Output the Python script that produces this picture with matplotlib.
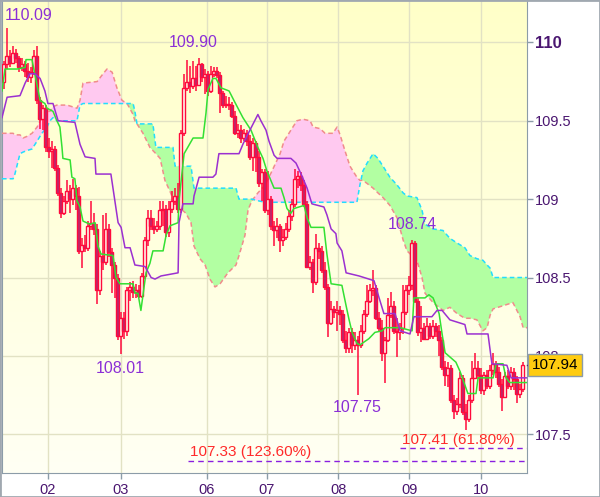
import numpy as np
import matplotlib
matplotlib.use('Agg')
import matplotlib.pyplot as plt
from matplotlib.colors import LinearSegmentedColormap
from matplotlib.patches import Rectangle
from matplotlib.transforms import blended_transform_factory

plt.rcParams['font.family'] = ['Liberation Sans', 'DejaVu Sans']

# ---- candles (x = bar number) ----
first_open = 109.75
closes = [
    109.86, 109.91, 109.87, 109.93, 109.90, 109.84, 109.86, 109.82, 109.78, 109.81,
    109.91, 109.63, 109.51, 109.58, 109.33, 109.31, 109.32, 109.20, 109.04, 108.91,
    108.99, 109.05, 109.00, 109.07, 109.02, 108.67, 108.71, 108.69, 108.83, 108.85,
    108.81, 108.42, 108.64, 108.60, 108.81, 108.66, 108.58, 108.50, 108.13, 108.24,
    108.16, 108.42, 108.44, 108.41, 108.42, 108.38, 108.51, 108.74, 108.88, 108.83,
    108.81, 108.83, 108.93, 108.94, 108.79, 108.94, 108.99, 109.02, 108.94, 109.42,
    109.71, 109.75, 109.72, 109.77, 109.73, 109.86, 109.78, 109.80, 109.69, 109.80,
    109.82, 109.79, 109.68, 109.60, 109.61, 109.60, 109.53, 109.42, 109.44, 109.39,
    109.42, 109.37, 109.27, 109.36, 109.27, 109.10, 109.17, 108.93, 109.00, 108.83,
    108.80, 108.83, 108.74, 108.76, 108.81, 108.89, 108.97, 109.13, 109.15, 109.09,
    108.97, 108.57, 108.60, 108.47, 108.69, 108.67, 108.55, 108.44, 108.21, 108.30,
    108.28, 108.29, 108.27, 108.10, 108.05, 108.15, 108.07, 108.10, 108.07, 108.16,
    108.27, 108.35, 108.42, 108.43, 108.24, 108.18, 108.02, 108.10, 108.26, 108.32,
    108.16, 108.15, 108.18, 108.28, 108.42, 108.45, 108.72, 108.35, 108.15, 108.18,
    108.11, 108.19, 108.13, 108.19, 108.16, 108.10, 107.93, 107.88, 107.92, 107.72,
    107.65, 107.69, 107.86, 107.64, 107.60, 107.72, 107.86, 107.92, 107.88, 107.78,
    107.88, 107.81, 107.91, 107.95, 107.90, 107.82, 107.74, 107.87, 107.81, 107.90,
    107.85, 107.76, 107.79, 107.94]
highs = [
    109.88, 110.09, 109.95, 109.98, 109.96, 109.91, 109.90, 109.88, 109.87, 109.84,
    109.95, 109.98, 109.65, 109.60, 109.60, 109.39, 109.37, 109.34, 109.22, 109.07,
    109.02, 109.12, 109.09, 109.13, 109.09, 109.08, 108.75, 108.77, 108.86, 108.99,
    108.91, 108.84, 108.67, 108.90, 108.91, 108.84, 108.69, 108.60, 108.52, 108.28,
    108.28, 108.44, 108.47, 108.48, 108.46, 108.45, 108.53, 108.76, 108.93, 108.93,
    108.88, 108.86, 108.99, 108.99, 108.96, 108.99, 109.05, 109.07, 109.10, 109.44,
    109.80, 109.89, 109.85, 109.88, 109.85, 109.90, 109.87, 109.83, 109.82, 109.85,
    109.84, 109.84, 109.81, 109.69, 109.66, 109.65, 109.62, 109.56, 109.48, 109.47,
    109.45, 109.44, 109.41, 109.39, 109.37, 109.31, 109.19, 109.19, 109.18, 109.02,
    108.86, 108.88, 108.84, 108.81, 108.85, 108.93, 109.00, 109.19, 109.18, 109.17,
    109.12, 108.99, 108.64, 108.62, 108.78, 108.72, 108.70, 108.60, 108.46, 108.35,
    108.32, 108.35, 108.32, 108.29, 108.16, 108.18, 108.18, 108.15, 108.13, 108.20,
    108.29, 108.45, 108.46, 108.55, 108.45, 108.28, 108.23, 108.12, 108.37, 108.41,
    108.35, 108.24, 108.21, 108.45, 108.45, 108.51, 108.74, 108.73, 108.37, 108.32,
    108.21, 108.24, 108.21, 108.23, 108.21, 108.20, 108.12, 107.97, 107.96, 107.94,
    107.75, 107.73, 107.90, 107.88, 107.69, 107.75, 107.97, 108.02, 107.97, 107.92,
    107.90, 107.91, 107.94, 108.02, 107.97, 107.93, 107.85, 107.90, 107.91, 107.93,
    107.92, 107.87, 107.82, 107.96]
lows = [
    109.70, 109.83, 109.84, 109.86, 109.87, 109.81, 109.82, 109.78, 109.75, 109.74,
    109.79, 109.61, 109.45, 109.44, 109.30, 109.26, 109.20, 109.18, 109.02, 108.88,
    108.90, 108.97, 108.91, 108.96, 108.93, 108.65, 108.56, 108.66, 108.67, 108.80,
    108.77, 108.33, 108.39, 108.55, 108.58, 108.63, 108.40, 108.37, 108.10, 108.01,
    108.11, 108.13, 108.35, 108.37, 108.37, 108.37, 108.37, 108.49, 108.70, 108.80,
    108.78, 108.79, 108.80, 108.83, 108.76, 108.76, 108.91, 108.96, 108.91, 108.91,
    109.40, 109.69, 109.68, 109.70, 109.69, 109.72, 109.75, 109.67, 109.66, 109.68,
    109.78, 109.77, 109.55, 109.58, 109.58, 109.57, 109.52, 109.41, 109.39, 109.36,
    109.37, 109.34, 109.25, 109.18, 109.17, 109.08, 108.99, 108.91, 108.90, 108.80,
    108.70, 108.75, 108.66, 108.70, 108.74, 108.79, 108.86, 108.95, 109.07, 109.05,
    108.95, 108.56, 108.55, 108.40, 108.45, 108.62, 108.53, 108.42, 108.12, 108.20,
    108.24, 108.16, 108.20, 108.08, 108.02, 108.02, 108.02, 108.04, 107.75, 108.05,
    108.14, 108.25, 108.34, 108.38, 108.23, 108.16, 107.97, 107.83, 108.09, 108.24,
    108.14, 107.99, 108.10, 108.14, 108.26, 108.39, 108.42, 108.34, 108.13, 108.09,
    108.10, 108.10, 108.11, 108.11, 108.12, 108.00, 107.91, 107.81, 107.80, 107.70,
    107.60, 107.62, 107.67, 107.62, 107.53, 107.58, 107.70, 107.85, 107.85, 107.76,
    107.75, 107.79, 107.79, 107.88, 107.86, 107.80, 107.65, 107.73, 107.79, 107.78,
    107.78, 107.70, 107.73, 107.77]

# ---- ichimoku lines (x in bar numbers) ----
tenkan_x = [-0.5, 0.5, 4.5, 7.2, 7.5, 9.5, 9.8, 12.2, 13.8, 14.5, 16.5, 17.8, 18.8, 19.5, 19.8,
            22.2, 22.8, 23.8, 24.5, 25.5, 26.5, 28.8, 30.5, 31.5, 32.5, 36.5, 37.5, 38.8, 43.2,
            43.8, 44.8, 45.8, 47.5, 48.8, 49.8, 53.2, 54.2, 55.5, 58.2, 58.5, 60.2, 63.2, 66.5,
            67.5, 68.2, 69.8, 70.8, 72.5, 75.2, 76.8, 79.8, 82.5, 84.8, 86.5, 87.8, 90.2, 92.5,
            93.5, 94.5, 95.8, 96.8, 100.2, 101.2, 102.5, 106.8, 107.8, 109.2, 112.8, 114.2,
            115.2, 116.2, 117.8, 118.8, 121.8, 123.8, 126.2, 127.2, 132.2, 136.2, 136.8, 140.5,
            141.8, 143.2, 145.2, 146.2, 147.2, 150.8, 152.2, 154.8, 157.5, 158.2, 163.2, 164.2,
            166.5, 167.5, 168.8, 174.5]
tenkan_y = [109.69, 109.83, 109.83, 109.84, 109.89, 109.89, 109.86, 109.63, 109.61, 109.58,
            109.56, 109.50, 109.46, 109.33, 109.26, 109.25, 109.14, 109.13, 108.99, 108.95,
            108.86, 108.84, 108.85, 108.70, 108.65, 108.64, 108.50, 108.46, 108.46, 108.40,
            108.40, 108.29, 108.53, 108.59, 108.67, 108.67, 108.77, 108.83, 108.85, 108.99,
            109.29, 109.39, 109.39, 109.55, 109.70, 109.77, 109.77, 109.71, 109.69, 109.63,
            109.52, 109.44, 109.33, 109.26, 109.18, 109.07, 109.07, 109.01, 108.94, 108.91,
            108.94, 108.96, 108.88, 108.82, 108.82, 108.65, 108.46, 108.45, 108.32, 108.23,
            108.15, 108.08, 108.07, 108.11, 108.15, 108.16, 108.18, 108.18, 108.16, 108.37,
            108.37, 108.39, 108.37, 108.27, 108.14, 108.02, 107.96, 107.90, 107.76, 107.76,
            107.86, 107.86, 107.95, 107.95, 107.86, 107.83, 107.83]

kijun_x = [-0.5, 1.2, 5.5, 7.2, 8.8, 10.5, 12.2, 13.8, 14.8, 16.5, 18.2, 23.8, 25.5, 27.2, 30.5,
           30.8, 35.8, 38.2, 39.2, 40.5, 42.2, 43.8, 47.2, 49.2, 50.5, 52.5, 58.2, 58.5, 59.8,
           63.2, 63.5, 65.2, 69.8, 70.8, 71.8, 78.5, 79.8, 80.8, 84.8, 85.8, 87.5, 88.5, 90.2,
           91.2, 95.8, 97.5, 99.2, 101.2, 102.8, 106.8, 107.8, 109.2, 110.8, 111.2, 112.8, 114.2,
           118.5, 123.5, 125.2, 126.8, 130.5, 132.2, 135.5, 136.8, 142.8, 144.5, 146.2, 148.8,
           153.8, 154.5, 161.5, 162.8, 167.8, 169.2, 174.5]
kijun_y = [109.52, 109.65, 109.66, 109.74, 109.80, 109.80, 109.77, 109.69, 109.61, 109.61,
           109.50, 109.49, 109.35, 109.27, 109.26, 109.16, 109.16, 108.85, 108.82, 108.69,
           108.69, 108.58, 108.57, 108.50, 108.49, 108.51, 108.53, 108.85, 108.97, 108.97,
           109.02, 109.14, 109.14, 109.16, 109.29, 109.29, 109.35, 109.39, 109.54, 109.50,
           109.44, 109.37, 109.28, 109.26, 109.26, 109.23, 109.16, 109.07, 108.97, 108.95,
           108.90, 108.81, 108.78, 108.72, 108.67, 108.53, 108.51, 108.48, 108.37, 108.27,
           108.27, 108.16, 108.14, 108.25, 108.25, 108.29, 108.29, 108.23, 108.20, 108.14,
           108.14, 107.95, 107.94, 107.86, 107.86]

cloud_x = [-0.5, 3.2, 3.8, 5.5, 6.5, 7.8, 9.5, 11.2, 12.8, 14.5, 15.5, 16.5, 17.8, 21.2, 24.5,
           25.5, 26.5, 31.2, 33.2, 34.5, 36.2, 37.8, 39.5, 41.2, 43.2, 43.8, 44.5, 46.5, 48.8,
           49.8, 50.8, 52.2, 53.8, 55.5, 56.5, 57.2, 60.8, 62.5, 63.5, 65.5, 67.2, 68.8, 70.5,
           72.2, 74.8, 77.5, 78.5, 80.5, 81.5, 82.8, 84.8, 87.2, 89.5, 92.2, 93.5, 95.8, 97.8,
           99.8, 102.2, 103.2, 105.5, 107.2, 109.8, 111.2, 112.2, 113.8, 115.5, 116.8, 117.8,
           118.8, 119.8, 121.2, 123.2, 124.8, 126.5, 128.8, 131.2, 133.2, 134.5, 137.8, 139.5,
           140.5, 143.2, 146.5, 148.8, 151.2, 153.8, 155.5, 157.8, 159.8, 161.2, 162.2, 163.2,
           166.5, 169.8, 172.2, 173.2, 174.5]
span_a = [109.42, 109.42, 109.41, 109.41, 109.39, 109.40, 109.42, 109.46, 109.52, 109.56,
          109.56, 109.59, 109.60, 109.60, 109.58, 109.63, 109.74, 109.75, 109.80, 109.83,
          109.81, 109.71, 109.63, 109.61, 109.54, 109.50, 109.48, 109.42, 109.33, 109.31,
          109.29, 109.26, 109.12, 109.05, 109.00, 108.97, 108.91, 108.85, 108.70, 108.62,
          108.58, 108.49, 108.44, 108.46, 108.53, 108.58, 108.64, 108.77, 108.93, 108.99,
          109.04, 109.09, 109.18, 109.29, 109.37, 109.44, 109.50, 109.51, 109.50, 109.46,
          109.45, 109.42, 109.42, 109.46, 109.41, 109.31, 109.21, 109.17, 109.14, 109.12,
          109.12, 109.10, 109.07, 109.04, 109.01, 108.96, 108.88, 108.74, 108.67, 108.61,
          108.50, 108.40, 108.34, 108.29, 108.31, 108.27, 108.24, 108.24, 108.23, 108.16,
          108.18, 108.26, 108.30, 108.32, 108.34, 108.25, 108.18, 108.18]
span_b = [109.13, 109.13, 109.16, 109.29, 109.30, 109.31, 109.32, 109.37, 109.42, 109.46,
          109.50, 109.52, 109.50, 109.50, 109.50, 109.60, 109.61, 109.61, 109.61, 109.61,
          109.61, 109.61, 109.61, 109.61, 109.61, 109.56, 109.48, 109.48, 109.48, 109.48,
          109.33, 109.33, 109.33, 109.33, 109.33, 109.21, 109.21, 109.21, 109.07, 109.07,
          109.07, 109.07, 109.07, 109.07, 109.07, 109.07, 109.00, 109.00, 109.00, 109.00,
          108.99, 108.98, 108.98, 108.98, 108.98, 108.98, 108.98, 108.98, 108.98, 108.98,
          108.98, 108.98, 108.98, 108.98, 108.98, 108.98, 108.98, 108.98, 108.98, 109.09,
          109.18, 109.23, 109.29, 109.26, 109.21, 109.14, 109.09, 109.04, 109.02, 109.01,
          108.93, 108.84, 108.81, 108.80, 108.75, 108.72, 108.69, 108.64, 108.62, 108.61,
          108.58, 108.56, 108.50, 108.50, 108.50, 108.50, 108.50, 108.50]

# ---- axis ----
day_pos = [14.8, 39.0, 67.7, 87.7, 111.6, 135.3, 159.3]
day_labels = ['02', '03', '06', '07', '08', '09', '10']
price_ticks = [107.5, 108.0, 108.5, 109.0, 109.5, 110.0]
price_labels = ['107.5', '108', '108.5', '109', '109.5', '110']

# highs / lows marked on the chart: (bar, price, text)
mark_x = [0.5, 63.2, 38.8, 136.2, 117.8]
mark_y = [110.17, 110.00, 107.92, 108.84, 107.67]
mark_text = ['110.09', '109.90', '108.01', '108.74', '107.75']

# fibonacci levels
fib_start = [61.5, 132.2]
fib_level = [107.33, 107.41]
fib_text = ['107.33 (123.60%)', '107.41 (61.80%)']
last_price = 107.94

RED = '#FF0A3C'
x_lim = (-0.5, 174.5)
y_lim = (107.253, 110.264)

fig = plt.figure(figsize=(6.0, 4.97), dpi=100)
ax = fig.add_axes([2 / 600, 24 / 497, 525 / 600, 472 / 497])

# background gradient
grad = np.linspace(0, 1, 256).reshape(-1, 1)
cmap = LinearSegmentedColormap.from_list('bg', ['#FFFFF4', '#FFFFC8'])
ax.imshow(grad, extent=[x_lim[0], x_lim[1], y_lim[1], y_lim[0]], aspect='auto',
          cmap=cmap, zorder=0, origin='upper')

# grid
for d in day_pos:
    ax.axvline(d, color='#E2E2C4', lw=1, zorder=1)
for p in price_ticks:
    ax.axhline(p, color='#E2E2C4', lw=1, zorder=1)

# cloud
cx = np.array(cloud_x)
sa = np.array(span_a)
sb = np.array(span_b)
ax.fill_between(cx, sa, sb, where=sa >= sb, interpolate=True, color='#FFC9F0', lw=0, zorder=2)
ax.fill_between(cx, sa, sb, where=sa < sb, interpolate=True, color='#B2FFA2', lw=0, zorder=2)
ax.plot(cx, sa, color='#F08C8C', lw=1.1, ls=(0, (3, 2)), zorder=3)
ax.plot(cx, sb, color='#22DDFF', lw=1.1, ls=(0, (3, 2)), zorder=3)

# candles
bars = np.arange(len(closes))
c = np.array(closes)
o = np.array([first_open] + closes[:-1])
ax.vlines(bars, lows, highs, color=RED, lw=1.1, zorder=4)
face = ['#FFFFEE' if cc >= oo else '#B8286E' for oo, cc in zip(o, c)]
ax.bar(bars, c - o, bottom=o, width=0.8, color=face, edgecolor=RED, lw=1.0, zorder=5)

# tenkan / kijun
ax.plot(tenkan_x, tenkan_y, color='#33E033', lw=1.1, zorder=6)
ax.plot(kijun_x, kijun_y, color='#9B30D0', lw=1.1, zorder=6)

# fibonacci
for xs, lv, tx in zip(fib_start, fib_level, fib_text):
    ax.plot([xs, x_lim[1]], [lv, lv], color='#8A1FE0', lw=1.0, ls=(0, (4, 3)), zorder=6)
    ax.text(xs + 0.7, lv + 0.012, tx, color='#FF2A2A', fontsize=11, ha='left', va='bottom', zorder=7)

# high / low labels
for mx, my, mt in zip(mark_x, mark_y, mark_text):
    ha = 'left' if mx < 5 else 'center'
    ax.text(mx, my, mt, color='#8B2FD6', fontsize=11.5, ha=ha, va='center', zorder=7)

ax.set_xlim(*x_lim)
ax.set_ylim(*y_lim)

ax.yaxis.tick_right()
ax.set_yticks(price_ticks)
ax.set_yticklabels(price_labels)
ax.set_xticks(day_pos)
ax.set_xticklabels(day_labels)
ax.tick_params(axis='both', direction='out', length=4, width=1, color='#8C9CA8',
               labelsize=10.5, labelcolor='#4A1670')
ax.tick_params(axis='y', pad=1.5)
ax.tick_params(axis='x', pad=3)
for lab in ax.get_yticklabels():
    if lab.get_text() == '110':
        lab.set_fontweight('bold')
        lab.set_fontsize(12)
for s in ['left', 'right', 'bottom']:
    ax.spines[s].set_color('#8C9CA8')
ax.spines['top'].set_visible(False)

# last price box (covers the 108 tick label like the original)
tr = blended_transform_factory(ax.transAxes, ax.transData)
ax.plot([1.0, 1.008], [last_price, last_price], color='#4A1670', lw=1, transform=tr,
        clip_on=False, zorder=9)
ax.text(1.009, last_price, '107.94', transform=tr, fontsize=11, color='black', ha='left',
        va='center', zorder=10, clip_on=False,
        bbox=dict(boxstyle='square,pad=0.25', facecolor='#FFCC10', edgecolor='#8C9CA8', lw=1))

# outer frame
fig.patches.append(Rectangle((0, 0), 1, 1, transform=fig.transFigure, fill=False,
                             edgecolor='#A0A8B0', lw=2))

fig.savefig('out.png', dpi=100, facecolor='white')
